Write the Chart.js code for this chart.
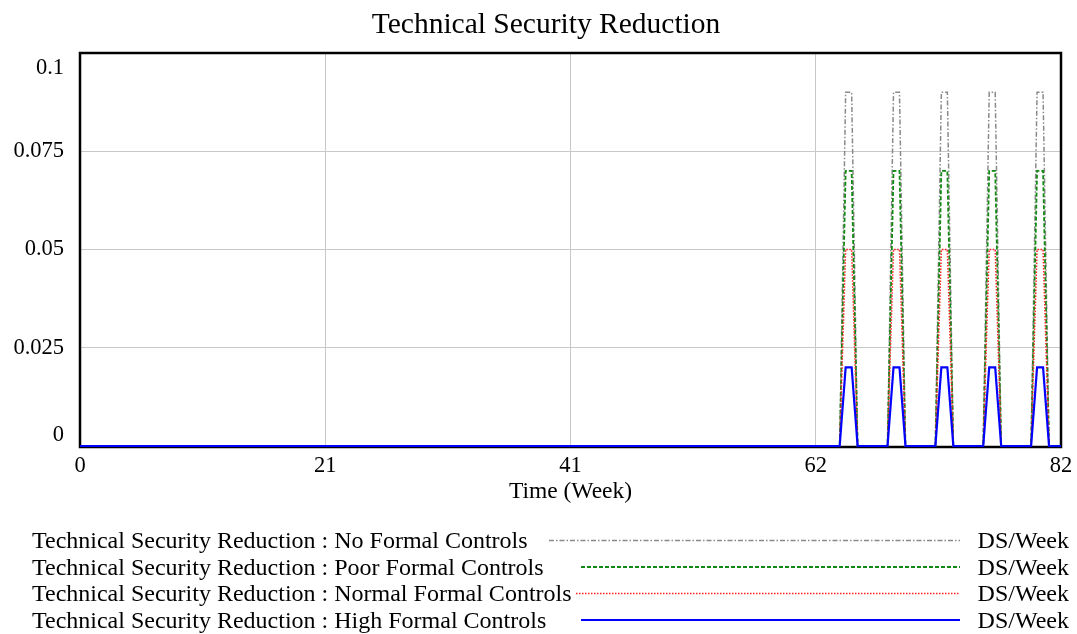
<!DOCTYPE html>
<html>
<head>
<meta charset="utf-8">
<script src="https://cdn.jsdelivr.net/npm/chart.js@4/dist/chart.umd.min.js"></script>
<style>
  html, body { margin: 0; padding: 0; background: #ffffff; }
  canvas { display: block; }
</style>
</head>
<body>
<canvas id="chart" width="1077" height="634"></canvas>
<script>
// Simulation time (weeks) at which the output changes slope
const weeks = [0, 63.5, 64, 64.5, 65, 67.5, 68, 68.5, 69, 71.5, 72, 72.5, 73, 75.5, 76, 76.5, 77, 79.5, 80, 80.5, 81, 82];

// Technical Security Reduction (DS/Week) per scenario
const noFormalControls     = [0, 0, 0.09, 0.09, 0, 0, 0.09, 0.09, 0, 0, 0.09, 0.09, 0, 0, 0.09, 0.09, 0, 0, 0.09, 0.09, 0, 0];
const poorFormalControls   = [0, 0, 0.07, 0.07, 0, 0, 0.07, 0.07, 0, 0, 0.07, 0.07, 0, 0, 0.07, 0.07, 0, 0, 0.07, 0.07, 0, 0];
const normalFormalControls = [0, 0, 0.05, 0.05, 0, 0, 0.05, 0.05, 0, 0, 0.05, 0.05, 0, 0, 0.05, 0.05, 0, 0, 0.05, 0.05, 0, 0];
const highFormalControls   = [0, 0, 0.02, 0.02, 0, 0, 0.02, 0.02, 0, 0, 0.02, 0.02, 0, 0, 0.02, 0.02, 0, 0, 0.02, 0.02, 0, 0];

const seriesNames = [
  'Technical Security Reduction : No Formal Controls',
  'Technical Security Reduction : Poor Formal Controls',
  'Technical Security Reduction : Normal Formal Controls',
  'Technical Security Reduction : High Formal Controls'
];
const unitLabel = 'DS/Week';

// Axis ticks
const xTickValues = [0, 20.5, 41, 61.5, 82];
const xTickLabels = ['0', '21', '41', '62', '82'];
const yTickValues = [0, 0.025, 0.05, 0.075, 0.1];
const yTickLabels = ['0', '0.025', '0.05', '0.075', '0.1'];

const chartTitle = 'Technical Security Reduction';
const xAxisTitle = 'Time (Week)';

const FONT = '"Liberation Serif", "Times New Roman", serif';

// line look per series, plus where its legend sample starts
const styles = [
  { color: '#8a8a8a', width: 1.5, dash: [5, 2, 1.5, 2], order: 4, keyStart: 549 },
  { color: '#118811', width: 1.8, dash: [4, 2], order: 3, keyStart: 581 },
  { color: '#ff2020', width: 1.5, dash: [1.5, 1.5], order: 2, keyStart: 576 },
  { color: '#0000ff', width: 2.2, dash: [], order: 1, keyStart: 581 }
];
const seriesValues = [noFormalControls, poorFormalControls, normalFormalControls, highFormalControls];

const datasets = seriesValues.map((vals, i) => ({
  label: seriesNames[i],
  data: weeks.map((w, j) => ({ x: w, y: vals[j] })),
  borderColor: styles[i].color,
  borderWidth: styles[i].width,
  borderDash: styles[i].dash,
  order: styles[i].order,
  pointRadius: 0,
  tension: 0,
  fill: false,
  clip: false
}));

// Frame, title, tick labels and the unit legend below the plot
const decorations = {
  id: 'decorations',
  beforeDatasetsDraw(chart) {
    const { ctx, chartArea: a } = chart;
    ctx.save();
    ctx.strokeStyle = '#000000';
    ctx.lineWidth = 2.5;
    ctx.strokeRect(a.left, a.top, a.right - a.left, a.bottom - a.top + 1);
    ctx.restore();
  },
  afterDraw(chart) {
    const { ctx, chartArea: a } = chart;
    const xs = chart.scales.x, ys = chart.scales.y;
    ctx.save();
    ctx.fillStyle = '#000000';

    // title
    ctx.font = '29.5px ' + FONT;
    ctx.textAlign = 'center';
    ctx.textBaseline = 'alphabetic';
    ctx.fillText(chartTitle, 546, 33);

    // y tick labels, kept inside the frame's height
    ctx.font = '22.5px ' + FONT;
    ctx.textAlign = 'right';
    ctx.textBaseline = 'middle';
    yTickValues.forEach((v, i) => {
      let y = ys.getPixelForValue(v);
      y = Math.max(a.top + 15, Math.min(a.bottom - 11, y));
      ctx.fillText(yTickLabels[i], a.left - 16, y);
    });

    // x tick labels
    ctx.textAlign = 'center';
    xTickValues.forEach((v, i) => {
      ctx.fillText(xTickLabels[i], xs.getPixelForValue(v), a.bottom + 20);
    });

    // x axis title
    ctx.font = '23.5px ' + FONT;
    ctx.fillText(xAxisTitle, (a.left + a.right) / 2, a.bottom + 46);

    // legend rows
    ctx.font = '24px ' + FONT;
    const rowY = [542, 568.5, 595, 621.5];
    seriesNames.forEach((name, i) => {
      const y = rowY[i];
      ctx.textAlign = 'left';
      ctx.fillStyle = '#000000';
      ctx.fillText(name, 32, y);
      const x0 = styles[i].keyStart;
      const x1 = 960;
      ctx.save();
      ctx.strokeStyle = styles[i].color;
      ctx.lineWidth = styles[i].width;
      ctx.setLineDash(styles[i].dash);
      ctx.beginPath();
      ctx.moveTo(x0, y - 1.5);
      ctx.lineTo(x1, y - 1.5);
      ctx.stroke();
      ctx.restore();
      ctx.textAlign = 'right';
      ctx.fillText(unitLabel, 1069, y);
    });
    ctx.restore();
  }
};

new Chart(document.getElementById('chart'), {
  type: 'line',
  data: { datasets },
  options: {
    responsive: false,
    animation: false,
    devicePixelRatio: 1,
    layout: { padding: { left: 80, top: 53, right: 16, bottom: 188 } },
    plugins: {
      legend: { display: false },
      title: { display: false },
      tooltip: { enabled: false }
    },
    scales: {
      x: {
        type: 'linear',
        min: 0,
        max: 82,
        afterBuildTicks: s => { s.ticks = xTickValues.map(v => ({ value: v })); },
        afterFit: s => { s.height = 0; },
        ticks: { display: false },
        grid: { color: '#c8c8c8', lineWidth: 1, drawTicks: false },
        border: { display: false }
      },
      y: {
        type: 'linear',
        min: 0,
        max: 0.1,
        afterBuildTicks: s => { s.ticks = yTickValues.map(v => ({ value: v })); },
        afterFit: s => { s.width = 0; },
        ticks: { display: false },
        grid: { color: '#c8c8c8', lineWidth: 1, drawTicks: false },
        border: { display: false }
      }
    }
  },
  plugins: [decorations]
});
</script>
</body>
</html>
